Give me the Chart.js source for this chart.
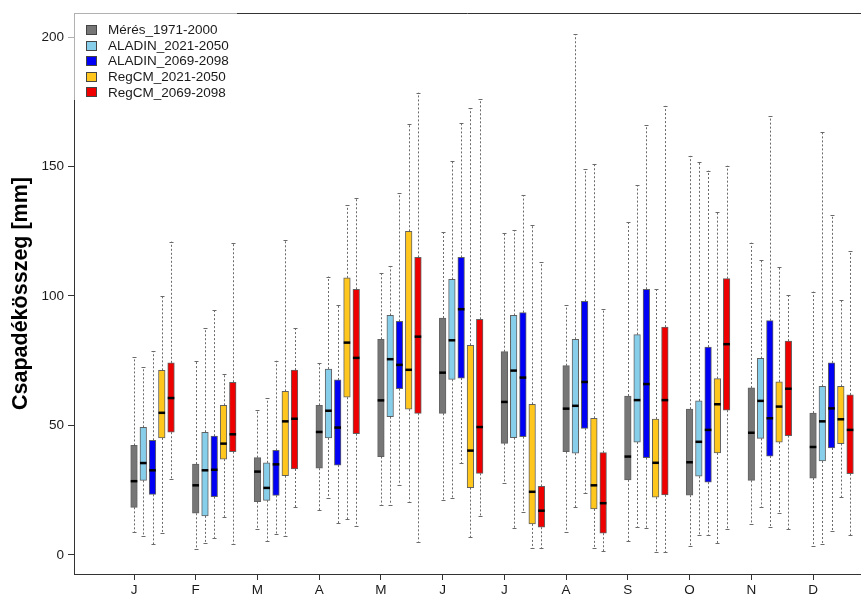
<!DOCTYPE html>
<html><head><meta charset="utf-8">
<script src="https://cdn.jsdelivr.net/npm/chart.js@4.4.0/dist/chart.umd.min.js"></script>
<style>html,body{margin:0;padding:0;background:#fff;overflow:hidden}#wrap{width:861px;height:594px;position:relative}</style>
</head><body><div id="wrap"><canvas id="c" width="861" height="594"></canvas></div>
<script>
// ---- data ----
const months = ['J','F','M','A','M','J','J','A','S','O','N','D'];
const seriesNames = ['Mérés_1971-2000','ALADIN_2021-2050','ALADIN_2069-2098','RegCM_2021-2050','RegCM_2069-2098'];
const yTicks = [0, 50, 100, 150, 200];
// each entry: [min, q1, median, q3, max] per month
const meres = [
  [8.8,18.4,28.5,42.3,76.3],[2.2,16.1,26.9,35.1,75.0],[10.0,20.6,32.2,37.6,55.9],[17.4,33.5,47.5,57.8,74.0],
  [19.2,38.0,59.7,83.3,108.8],[21.1,54.7,70.4,91.5,124.8],[27.9,43.1,59.1,78.5,124.4],[9.0,39.9,56.5,73.1,96.5],
  [5.3,29.0,38.0,61.4,128.6],[3.6,23.1,35.8,56.3,154.1],[11.8,28.8,47.2,64.5,120.6],[3.6,29.7,41.7,54.8,101.7]
];
const aladin2021 = [
  [7.3,28.8,35.5,49.3,72.5],[4.7,15.1,32.7,47.4,87.6],[5.4,21.1,25.9,35.6,60.5],[22.0,45.2,55.7,71.8,107.5],
  [19.4,53.4,75.6,92.5,111.6],[22.1,67.8,82.9,106.4,152.0],[10.3,45.3,71.2,92.5,125.5],[18.4,39.3,57.6,83.3,201.0],
  [10.9,43.6,59.8,85.1,142.7],[7.8,30.4,43.7,59.5,151.9],[18.5,45.0,59.5,75.9,113.9],[4.2,36.3,51.6,65.1,163.3]
];
const aladin2069 = [
  [4.2,23.4,32.7,44.3,78.6],[6.6,22.5,32.9,45.9,94.6],[8.0,23.0,35.0,40.4,75.0],[12.2,34.7,49.2,67.6,96.4],
  [27.1,64.2,73.4,90.2,139.7],[35.4,68.3,94.9,114.9,166.9],[16.7,45.7,68.5,93.6,139.0],[23.8,48.9,66.8,97.9,148.9],
  [10.3,37.6,66.0,102.6,166.0],[7.8,28.1,48.3,80.3,148.4],[10.7,38.2,52.8,90.5,169.5],[9.3,41.3,56.6,74.2,131.3]
];
const regcm2021 = [
  [8.5,45.2,54.9,71.3,100.0],[14.7,37.0,43.0,57.8,70.0],[7.3,30.6,51.6,63.2,121.5],[13.8,60.9,82.0,107.0,135.1],
  [20.6,56.3,71.5,125.0,166.5],[6.8,26.0,40.3,81.0,172.5],[2.6,12.0,24.4,58.2,127.6],[2.6,17.8,26.9,52.8,150.8],
  [1.0,22.3,35.6,52.5,102.6],[4.5,39.4,58.2,68.1,132.3],[16.1,43.6,57.3,66.9,111.1],[22.3,43.0,52.4,65.1,98.5]
];
const regcm2069 = [
  [29.3,47.4,60.6,74.2,121.0],[4.2,39.9,46.6,66.7,120.5],[18.5,33.2,52.6,71.4,87.5],[11.2,46.8,76.1,102.6,138.0],
  [5.1,54.7,84.3,114.9,178.5],[14.9,31.5,49.4,91.0,176.0],[2.6,10.7,17.1,26.5,113.1],[1.5,8.4,20.0,39.5,95.1],
  [1.2,23.2,59.8,88.0,173.4],[10.2,55.9,81.4,106.7,150.3],[9.9,46.1,64.2,82.6,100.5],[7.6,31.4,48.3,61.8,117.3]
];

// ---- styling ----
const allSeries = [meres, aladin2021, aladin2069, regcm2021, regcm2069];
const colors = ['#767676', '#87CEEB', '#0000F5', '#FFC61E', '#EE0000'];
const GROUP_STEP = 0.15;
const FONT = "'Liberation Sans', Arial, Helvetica, sans-serif";
Chart.defaults.font.family = FONT;

const datasets = allSeries.map((s, k) => ({
  label: seriesNames[k],
  data: s.map((d, i) => ({ x: i + k * GROUP_STEP, y: [d[1], d[3]] })),
  backgroundColor: colors[k],
  borderColor: 'rgba(70,70,70,0.85)',
  borderWidth: 1,
  borderSkipped: false,
  grouped: false,
  barThickness: 6.6
}));

const boxPlugin = {
  id: 'boxWhiskers',
  beforeDatasetsDraw(chart) {
    const ctx = chart.ctx, ys = chart.scales.y;
    allSeries.forEach((s, k) => {
      const meta = chart.getDatasetMeta(k);
      meta.data.forEach((bar, i) => {
        const d = s[i];
        const x = Math.round(bar.x) + 0.5;
        const yMin = ys.getPixelForValue(d[0]), yQ1 = ys.getPixelForValue(d[1]);
        const yQ3 = ys.getPixelForValue(d[3]), yMax = ys.getPixelForValue(d[4]);
        ctx.save();
        ctx.strokeStyle = '#6a6a6a';
        ctx.lineWidth = 1;
        ctx.setLineDash([2, 2]);
        ctx.beginPath();
        ctx.moveTo(x, yQ3); ctx.lineTo(x, yMax);
        ctx.moveTo(x, yQ1); ctx.lineTo(x, yMin);
        ctx.stroke();
        ctx.setLineDash([]);
        ctx.beginPath();
        ctx.moveTo(x - 2, Math.round(yMax) + 0.5); ctx.lineTo(x + 2, Math.round(yMax) + 0.5);
        ctx.moveTo(x - 2, Math.round(yMin) + 0.5); ctx.lineTo(x + 2, Math.round(yMin) + 0.5);
        ctx.stroke();
        ctx.restore();
      });
    });
  },
  afterDatasetsDraw(chart) {
    const ctx = chart.ctx, ys = chart.scales.y;
    allSeries.forEach((s, k) => {
      const meta = chart.getDatasetMeta(k);
      meta.data.forEach((bar, i) => {
        const yMed = ys.getPixelForValue(s[i][2]);
        ctx.save();
        ctx.strokeStyle = '#000';
        ctx.lineWidth = 2.5;
        ctx.beginPath();
        ctx.moveTo(bar.x - bar.width / 2, yMed);
        ctx.lineTo(bar.x + bar.width / 2, yMed);
        ctx.stroke();
        ctx.restore();
      });
    });
  },
  afterDraw(chart) {
    const ctx = chart.ctx, a = chart.chartArea;
    ctx.save();
    // top frame line
    ctx.strokeStyle = '#333';
    ctx.lineWidth = 1;
    ctx.beginPath();
    ctx.moveTo(a.left, Math.round(a.top) + 0.5);
    ctx.lineTo(a.right, Math.round(a.top) + 0.5);
    ctx.stroke();
    // semi-transparent legend background
    ctx.fillStyle = 'rgba(255,255,255,0.62)';
    ctx.fillRect(a.left - 9, a.top - 6, 172, 93);
    // legend items
    ctx.font = '13.5px ' + FONT;
    ctx.textBaseline = 'middle';
    seriesNames.forEach((name, k) => {
      const cy = 30 + k * 15.6;
      ctx.fillStyle = colors[k];
      ctx.fillRect(86.5, Math.round(cy - 5) + 0.5, 10, 9);
      ctx.strokeStyle = '#444';
      ctx.strokeRect(86.5, Math.round(cy - 5) + 0.5, 10, 9);
      ctx.fillStyle = '#1a1a1a';
      ctx.fillText(name, 108, cy + 0.5);
    });
    ctx.restore();
  }
};

new Chart(document.getElementById('c'), {
  type: 'bar',
  data: { datasets },
  options: {
    responsive: false,
    animation: false,
    events: [],
    layout: { padding: { top: 13, left: 0, right: 0, bottom: 0 } },
    plugins: { legend: { display: false }, tooltip: { enabled: false }, title: { display: false } },
    scales: {
      x: {
        type: 'linear',
        offset: false,
        min: -0.972,
        max: 11.777,
        afterBuildTicks: (sc) => { sc.ticks = months.map((m, i) => ({ value: i })); },
        afterFit: (sc) => { sc.height = 20; },
        ticks: {
          callback: (v) => months[v],
          color: '#1a1a1a',
          font: { size: 13.5 },
          padding: 2,
          maxRotation: 0,
          autoSkip: false
        },
        grid: { offset: false, drawOnChartArea: false, drawTicks: true, tickLength: 6, color: '#333' },
        border: { display: true, color: '#333', width: 1 }
      },
      y: {
        min: -7.34,
        max: 209.27,
        afterBuildTicks: (sc) => { sc.ticks = yTicks.map(v => ({ value: v })); },
        afterFit: (sc) => { sc.width = 74; },
        ticks: { color: '#1a1a1a', font: { size: 13.5 }, padding: 4 },
        grid: { drawOnChartArea: false, drawTicks: true, tickLength: 6, color: '#333' },
        border: { display: true, color: '#333', width: 1 },
        title: {
          display: true,
          text: 'Csapadékösszeg [mm]',
          color: '#000',
          font: { size: 21.5, weight: 'bold' },
          padding: { top: 8, bottom: 0 }
        }
      }
    }
  },
  plugins: [boxPlugin]
});
</script>
</body></html>
